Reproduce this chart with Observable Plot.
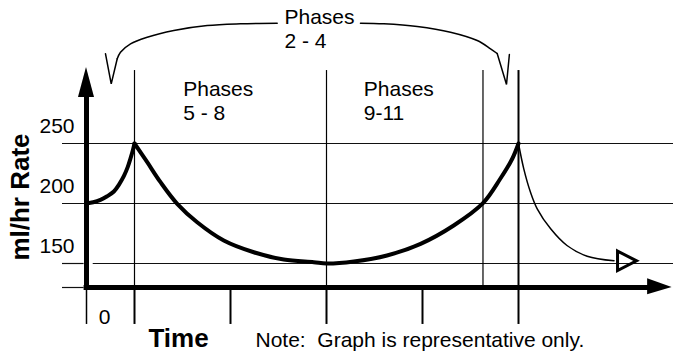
<!DOCTYPE html>
<html><head><meta charset="utf-8">
<script src="https://cdn.jsdelivr.net/npm/d3@7"></script>
<script src="https://cdn.jsdelivr.net/npm/@observablehq/plot@0.6"></script>
<style>html,body{margin:0;padding:0;background:#fff;}</style>
</head><body><div id="chart"></div>
<script>
// ---- data ----
const yTicks = [250, 200, 150];
const yTickLabels = ["250", "200", "150"];
const xTicks = [0, 1, 3, 5, 7, 9];
const xTickLabel = "0";
const phaseBoundaries = [1, 5, 8.26, 9];

// rising segment (phase 0 -> peak)
const riseT = [0, 0.14, 0.29, 0.43, 0.57, 0.68, 0.78, 0.86, 0.92, 0.97, 1];
const riseV = [200, 201, 203, 206, 210, 216, 223, 230.5, 238, 245, 250];
// main decay / recovery (phases 5-8, 9-11)
const mainT = [1, 1.265, 1.542, 1.89, 2.306, 2.86, 3.485, 4.11, 4.735, 5, 5.57, 6.26, 6.96, 7.65, 8.26, 8.62, 8.87, 9];
const mainV = [250, 234.4, 217.75, 199.75, 184.4, 169.2, 159.4, 153.3, 151.1, 150, 151.7, 156.7, 166.4, 181.7, 200.3, 220.6, 237.3, 250];
// thin tail after last peak
const tailT = [9, 9.11, 9.25, 9.39, 9.67, 10.01, 10.43, 10.99];
const tailV = [250, 228.9, 209.4, 195.6, 178.9, 165, 156.1, 152.25];
const tailEnd = [{t: 11.2, v: 152.2}];

// annotation "Phases 2 - 4" arcs (data units)
const arcLeftT = [3.973, 3.208, 2.515, 1.819, 1.265, 0.917, 0.708, 0.640];
const arcLeftV = [350.25, 349.75, 348.3, 344.2, 338.6, 333.1, 326.1, 320.6];
const headLeftT = [0.396, 0.515, 0.640];
const headLeftV = [324.75, 299.75, 320.6];
const arcRightT = [5.708, 6.194, 6.89, 7.583, 8.14, 8.417, 8.556];
const arcRightV = [350.25, 349.75, 347.5, 342.75, 335.8, 328.9, 325];
const headRightT = [8.556, 8.75, 8.81];
const headRightV = [325, 299.2, 324.2];

const phaseText = [
  {t: 4.125, v: 350, text: "Phases"},
  {t: 4.125, v: 329.2, text: "2 - 4"},
  {t: 2.015, v: 289.2, text: "Phases"},
  {t: 2.015, v: 269.2, text: "5 - 8"},
  {t: 5.777, v: 289.2, text: "Phases"},
  {t: 5.777, v: 269.2, text: "9-11"}
];

// axis arrowheads (data units)
const yArrow = [{v: 288.3, lo: -0.167, hi: 0.167}, {v: 313.3, lo: 0, hi: 0}];
const xArrow = [{t: 11.69, lo: 123.9, hi: 137.25}, {t: 12.2, lo: 130, hi: 130}];

const pts = (T, V) => T.map((t, i) => ({t, v: V[i]}));
const FONT = "Liberation Sans, Arial, Helvetica, sans-serif";

const openTriangle = {
  draw(ctx, size) {
    const r = Math.sqrt(size / Math.PI);
    ctx.moveTo(-0.67 * r, -r);
    ctx.lineTo(1.27 * r, 0);
    ctx.lineTo(-0.67 * r, r);
    ctx.closePath();
  }
};

const chart = Plot.plot({
  width: 673,
  height: 354,
  marginLeft: 86,
  marginRight: 5,
  marginTop: 68,
  marginBottom: 67,
  x: {domain: [0, 12.125], axis: null},
  y: {domain: [130, 312.5], axis: null},
  style: {fontFamily: FONT, background: "#fff", color: "#000"},
  marks: [
    // horizontal grid lines
    Plot.ruleY(yTicks.slice(0, 2), {y: d => d, x1: -0.5, x2: 12.23, stroke: "#111", strokeWidth: 1.2}),
    Plot.ruleY([150], {x1: 0.14, x2: 12.23, stroke: "#111", strokeWidth: 1.2}),
    Plot.ruleY([150, 130], {x1: -0.5, x2: -0.05, stroke: "#111", strokeWidth: 1.2}),
    // phase boundary lines
    Plot.ruleX(phaseBoundaries, {x: d => d, y1: 130, y2: 310.8, stroke: "#000", strokeWidth: d => d === 9 ? 2 : 1.2}),
    // ticks below the axis
    Plot.ruleX(xTicks, {x: d => d, y1: 99.2, y2: 130, stroke: "#000", strokeWidth: d => d === 0 ? 1.5 : 2}),
    // y axis + arrow
    Plot.ruleX([0], {y1: 128, y2: 292, stroke: "#000", strokeWidth: 5}),
    Plot.areaX(yArrow, {y: "v", x1: "lo", x2: "hi", fill: "#000", curve: "linear"}),
    // x axis + arrow
    Plot.ruleY([130], {x1: -0.05, x2: 11.75, stroke: "#000", strokeWidth: 5}),
    Plot.areaY(xArrow, {x: "t", y1: "lo", y2: "hi", fill: "#000", curve: "linear"}),
    // curves
    Plot.line(pts(riseT, riseV), {x: "t", y: "v", curve: "catmull-rom", stroke: "#000", strokeWidth: 4, strokeLinecap: "round"}),
    Plot.line(pts(mainT, mainV), {x: "t", y: "v", curve: "catmull-rom", stroke: "#000", strokeWidth: 4, strokeLinecap: "round"}),
    Plot.line(pts(tailT, tailV), {x: "t", y: "v", curve: "catmull-rom", stroke: "#000", strokeWidth: 1.5}),
    Plot.dot(tailEnd, {x: "t", y: "v", symbol: openTriangle, r: 9.8, stroke: "#000", strokeWidth: 3, fill: "none"}),
    // annotation arcs
    Plot.line(pts(arcLeftT, arcLeftV), {x: "t", y: "v", curve: "catmull-rom", stroke: "#000", strokeWidth: 1.5}),
    Plot.line(pts(headLeftT, headLeftV), {x: "t", y: "v", curve: "linear", stroke: "#000", strokeWidth: 1.5, strokeLinejoin: "miter"}),
    Plot.line(pts(arcRightT, arcRightV), {x: "t", y: "v", curve: "catmull-rom", stroke: "#000", strokeWidth: 1.5}),
    Plot.line(pts(headRightT, headRightV), {x: "t", y: "v", curve: "linear", stroke: "#000", strokeWidth: 1.5, strokeLinejoin: "miter"}),
    // texts
    Plot.text(phaseText, {x: "t", y: "v", text: "text", textAnchor: "start", lineAnchor: "bottom", fontSize: 21, fill: "#000"}),
    Plot.text(yTicks, {x: -0.25, y: d => d, text: (d, i) => yTickLabels[i], textAnchor: "end", lineAnchor: "bottom", dy: -11, fontSize: 21, fill: "#000"}),
    Plot.text([xTickLabel], {x: 0.375, y: 100, text: d => d, textAnchor: "middle", lineAnchor: "bottom", fontSize: 21, fill: "#000"}),
    Plot.text(["Time"], {x: 1.29, y: 80.8, text: d => d, textAnchor: "start", lineAnchor: "bottom", fontSize: 26, fontWeight: "bold", fill: "#000"}),
    Plot.text(["Note:  Graph is representative only."], {x: 3.52, y: 80.8, text: d => d, textAnchor: "start", lineAnchor: "bottom", fontSize: 21, fill: "#000"}),
    Plot.text(["ml/hr Rate"], {x: -1.208, y: 205.4, text: d => d, textAnchor: "middle", lineAnchor: "bottom", rotate: -90, fontSize: 26, fontWeight: "bold", fill: "#000"})
  ]
});
document.getElementById("chart").appendChild(chart);
</script>
</body></html>
